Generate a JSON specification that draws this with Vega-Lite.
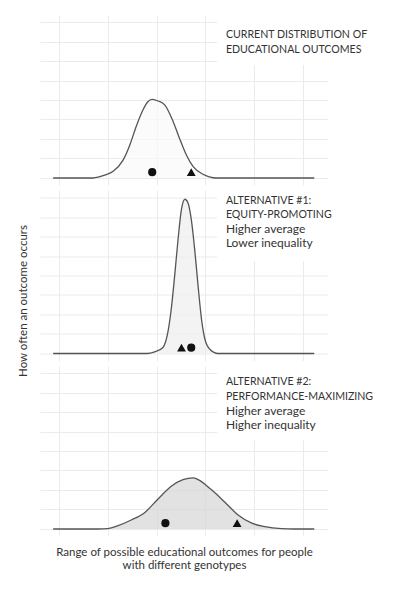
{
  "$schema": "https://vega.github.io/schema/vega-lite/v6.json",
  "padding": {"left": 17, "top": 15, "right": 0, "bottom": 0},
  "spacing": 5.5,
  "bounds": "flush",
  "config": {
    "view": {"stroke": null},
    "font": "Lato",
    "axis": {"labels": false, "ticks": false, "domain": false, "grid": true, "gridColor": "#ebebeb", "gridWidth": 1, "titleFont": "Lato", "titleFontSize": 11.5, "titleFontWeight": "normal", "titleColor": "#333333"}
  },
  "datasets": {
    "curves": [
      {"p": 1, "x": -0.12, "y": 0}, {"p": 1, "x": 0.70, "y": 0}, {"p": 1, "x": 0.80, "y": 0.04}, {"p": 1, "x": 0.90, "y": 0.12}, {"p": 1, "x": 1.11, "y": 0.34}, {"p": 1, "x": 1.31, "y": 0.9}, {"p": 1, "x": 1.45, "y": 1.68}, {"p": 1, "x": 1.58, "y": 2.63}, {"p": 1, "x": 1.72, "y": 3.49}, {"p": 1, "x": 1.82, "y": 3.91}, {"p": 1, "x": 1.91, "y": 4.03}, {"p": 1, "x": 2.03, "y": 3.95}, {"p": 1, "x": 2.17, "y": 3.74}, {"p": 1, "x": 2.34, "y": 2.89}, {"p": 1, "x": 2.47, "y": 2.03}, {"p": 1, "x": 2.61, "y": 1.18}, {"p": 1, "x": 2.75, "y": 0.58}, {"p": 1, "x": 2.95, "y": 0.19}, {"p": 1, "x": 3.08, "y": 0.06}, {"p": 1, "x": 3.22, "y": 0}, {"p": 1, "x": 5.23, "y": 0},
      {"p": 2, "x": -0.12, "y": 0}, {"p": 2, "x": 1.80, "y": 0}, {"p": 2, "x": 1.96, "y": 0.08}, {"p": 2, "x": 2.13, "y": 0.31}, {"p": 2, "x": 2.23, "y": 1.08}, {"p": 2, "x": 2.30, "y": 2.27}, {"p": 2, "x": 2.37, "y": 3.98}, {"p": 2, "x": 2.44, "y": 5.86}, {"p": 2, "x": 2.51, "y": 7.4}, {"p": 2, "x": 2.58, "y": 7.91}, {"p": 2, "x": 2.64, "y": 7.74}, {"p": 2, "x": 2.71, "y": 6.89}, {"p": 2, "x": 2.78, "y": 5.35}, {"p": 2, "x": 2.85, "y": 3.47}, {"p": 2, "x": 2.92, "y": 1.76}, {"p": 2, "x": 2.99, "y": 0.73}, {"p": 2, "x": 3.09, "y": 0.22}, {"p": 2, "x": 3.26, "y": 0}, {"p": 2, "x": 5.23, "y": 0},
      {"p": 3, "x": -0.12, "y": 0}, {"p": 3, "x": 0.80, "y": 0}, {"p": 3, "x": 1.00, "y": 0.02}, {"p": 3, "x": 1.21, "y": 0.17}, {"p": 3, "x": 1.48, "y": 0.46}, {"p": 3, "x": 1.76, "y": 0.85}, {"p": 3, "x": 2.03, "y": 1.54}, {"p": 3, "x": 2.30, "y": 2.19}, {"p": 3, "x": 2.54, "y": 2.53}, {"p": 3, "x": 2.75, "y": 2.62}, {"p": 3, "x": 2.85, "y": 2.53}, {"p": 3, "x": 3.12, "y": 2.02}, {"p": 3, "x": 3.40, "y": 1.37}, {"p": 3, "x": 3.67, "y": 0.72}, {"p": 3, "x": 3.94, "y": 0.31}, {"p": 3, "x": 4.22, "y": 0.12}, {"p": 3, "x": 4.56, "y": 0.02}, {"p": 3, "x": 4.83, "y": 0}, {"p": 3, "x": 5.23, "y": 0}
    ],
    "points": [
      {"p": 1, "x": 1.91, "s": "circle"}, {"p": 1, "x": 2.71, "s": "triangle-up"},
      {"p": 2, "x": 2.51, "s": "triangle-up"}, {"p": 2, "x": 2.71, "s": "circle"},
      {"p": 3, "x": 2.18, "s": "circle"}, {"p": 3, "x": 3.65, "s": "triangle-up"}
    ],
    "labels": [
      {"p": 1, "k": "head", "t": "CURRENT DISTRIBUTION OF\nEDUCATIONAL OUTCOMES"},
      {"p": 2, "k": "head", "t": "ALTERNATIVE #1:\nEQUITY-PROMOTING"},
      {"p": 2, "k": "sub", "t": "Higher average\nLower inequality"},
      {"p": 3, "k": "head", "t": "ALTERNATIVE #2:\nPERFORMANCE-MAXIMIZING"},
      {"p": 3, "k": "sub", "t": "Higher average\nHigher inequality"}
    ]
  },
  "vconcat": [
    {
      "width": 288, "height": 170,
      "layer": [
        {"data": {"values": [{}]}, "mark": {"type": "rect", "fill": "white"},
         "encoding": {"x": {"datum": 3.24, "type": "quantitative", "scale": {"domain": [-0.389, 5.512], "nice": false, "zero": false}, "axis": {"values": [0, 1, 2, 3, 4, 5], "title": null}}, "x2": {"datum": 5.512},
                      "y": {"datum": 5.8, "type": "quantitative", "scale": {"domain": [-0.36, 8.36], "nice": false, "zero": false}, "axis": {"values": [0, 1, 2, 3, 4, 5, 6, 7, 8], "title": null}}, "y2": {"datum": 8.36}}},
        {"data": {"name": "curves"}, "transform": [{"filter": "datum.p == 1"}],
         "mark": {"type": "area", "interpolate": "monotone", "fill": "#f9f9f9", "line": {"stroke": "#555555", "strokeWidth": 1.3}},
         "encoding": {"x": {"field": "x", "type": "quantitative", "scale": {"domain": [-0.389, 5.512], "nice": false, "zero": false}, "axis": {"values": [0, 1, 2, 3, 4, 5], "title": null}},
                      "y": {"field": "y", "type": "quantitative", "scale": {"domain": [-0.36, 8.36], "nice": false, "zero": false}, "axis": {"values": [0, 1, 2, 3, 4, 5, 6, 7, 8], "title": null}}}},
        {"data": {"name": "points"}, "transform": [{"filter": "datum.p == 1"}],
         "mark": {"type": "point", "filled": true, "color": "#111111", "opacity": 1},
         "encoding": {"x": {"field": "x", "type": "quantitative", "scale": {"domain": [-0.389, 5.512], "nice": false, "zero": false}, "axis": {"values": [0, 1, 2, 3, 4, 5], "title": null}},
                      "y": {"datum": 0.3, "type": "quantitative", "scale": {"domain": [-0.36, 8.36], "nice": false, "zero": false}, "axis": {"values": [0, 1, 2, 3, 4, 5, 6, 7, 8], "title": null}},
                      "shape": {"field": "s", "type": "nominal", "scale": null},
                      "size": {"field": "s", "type": "nominal", "scale": {"domain": ["circle", "triangle-up"], "range": [66, 78]}, "legend": null}}},
        {"data": {"name": "labels"}, "transform": [{"filter": "datum.p == 1 && datum.k == 'head'"}],
         "mark": {"type": "text", "align": "left", "baseline": "alphabetic", "lineBreak": "\n", "lineHeight": 15, "font": "Lato", "fontSize": 10.6, "color": "#333333"},
         "encoding": {"x": {"datum": 3.42, "type": "quantitative", "scale": {"domain": [-0.389, 5.512], "nice": false, "zero": false}, "axis": {"values": [0, 1, 2, 3, 4, 5], "title": null}},
                      "y": {"datum": 7.16, "type": "quantitative", "scale": {"domain": [-0.36, 8.36], "nice": false, "zero": false}, "axis": {"values": [0, 1, 2, 3, 4, 5, 6, 7, 8], "title": null}},
                      "text": {"field": "t"}}}
      ]
    },
    {
      "width": 288, "height": 170,
      "layer": [
        {"data": {"values": [{}]}, "mark": {"type": "rect", "fill": "white"},
         "encoding": {"x": {"datum": 3.24, "type": "quantitative", "scale": {"domain": [-0.389, 5.512], "nice": false, "zero": false}, "axis": {"values": [0, 1, 2, 3, 4, 5], "title": null}}, "x2": {"datum": 5.512},
                      "y": {"datum": 4.75, "type": "quantitative", "scale": {"domain": [-0.36, 8.36], "nice": false, "zero": false}, "axis": {"values": [0, 1, 2, 3, 4, 5, 6, 7, 8], "title": "How often an outcome occurs", "titlePadding": 12, "titleY": 110}}, "y2": {"datum": 8.36}}},
        {"data": {"name": "curves"}, "transform": [{"filter": "datum.p == 2"}],
         "mark": {"type": "area", "interpolate": "monotone", "fill": "#eeeeee", "line": {"stroke": "#555555", "strokeWidth": 1.3}},
         "encoding": {"x": {"field": "x", "type": "quantitative", "scale": {"domain": [-0.389, 5.512], "nice": false, "zero": false}, "axis": {"values": [0, 1, 2, 3, 4, 5], "title": null}},
                      "y": {"field": "y", "type": "quantitative", "scale": {"domain": [-0.36, 8.36], "nice": false, "zero": false}, "axis": {"values": [0, 1, 2, 3, 4, 5, 6, 7, 8], "title": "How often an outcome occurs", "titlePadding": 12, "titleY": 110}}}},
        {"data": {"name": "points"}, "transform": [{"filter": "datum.p == 2"}],
         "mark": {"type": "point", "filled": true, "color": "#111111", "opacity": 1},
         "encoding": {"x": {"field": "x", "type": "quantitative", "scale": {"domain": [-0.389, 5.512], "nice": false, "zero": false}, "axis": {"values": [0, 1, 2, 3, 4, 5], "title": null}},
                      "y": {"datum": 0.3, "type": "quantitative", "scale": {"domain": [-0.36, 8.36], "nice": false, "zero": false}, "axis": {"values": [0, 1, 2, 3, 4, 5, 6, 7, 8], "title": "How often an outcome occurs", "titlePadding": 12, "titleY": 110}},
                      "shape": {"field": "s", "type": "nominal", "scale": null},
                      "size": {"field": "s", "type": "nominal", "scale": {"domain": ["circle", "triangle-up"], "range": [66, 78]}, "legend": null}}},
        {"data": {"name": "labels"}, "transform": [{"filter": "datum.p == 2 && datum.k == 'head'"}],
         "mark": {"type": "text", "align": "left", "baseline": "alphabetic", "lineBreak": "\n", "lineHeight": 14.5, "font": "Lato", "fontSize": 10.6, "color": "#333333"},
         "encoding": {"x": {"datum": 3.42, "type": "quantitative", "scale": {"domain": [-0.389, 5.512], "nice": false, "zero": false}, "axis": {"values": [0, 1, 2, 3, 4, 5], "title": null}},
                      "y": {"datum": 7.69, "type": "quantitative", "scale": {"domain": [-0.36, 8.36], "nice": false, "zero": false}, "axis": {"values": [0, 1, 2, 3, 4, 5, 6, 7, 8], "title": "How often an outcome occurs", "titlePadding": 12, "titleY": 110}},
                      "text": {"field": "t"}}},
        {"data": {"name": "labels"}, "transform": [{"filter": "datum.p == 2 && datum.k == 'sub'"}],
         "mark": {"type": "text", "align": "left", "baseline": "alphabetic", "lineBreak": "\n", "lineHeight": 14.5, "font": "Lato", "fontSize": 12, "color": "#333333"},
         "encoding": {"x": {"datum": 3.42, "type": "quantitative", "scale": {"domain": [-0.389, 5.512], "nice": false, "zero": false}, "axis": {"values": [0, 1, 2, 3, 4, 5], "title": null}},
                      "y": {"datum": 6.2, "type": "quantitative", "scale": {"domain": [-0.36, 8.36], "nice": false, "zero": false}, "axis": {"values": [0, 1, 2, 3, 4, 5, 6, 7, 8], "title": "How often an outcome occurs", "titlePadding": 12, "titleY": 110}},
                      "text": {"field": "t"}}}
      ]
    },
    {
      "width": 288, "height": 170,
      "layer": [
        {"data": {"values": [{}]}, "mark": {"type": "rect", "fill": "white"},
         "encoding": {"x": {"datum": 3.24, "type": "quantitative", "scale": {"domain": [-0.389, 5.512], "nice": false, "zero": false}, "axis": {"values": [0, 1, 2, 3, 4, 5], "title": ["Range of possible educational outcomes for people", "with different genotypes"], "titlePadding": 10, "titleLineHeight": 13.5}}, "x2": {"datum": 5.512},
                      "y": {"datum": 4.55, "type": "quantitative", "scale": {"domain": [-0.36, 8.36], "nice": false, "zero": false}, "axis": {"values": [0, 1, 2, 3, 4, 5, 6, 7, 8], "title": null}}, "y2": {"datum": 8.36}}},
        {"data": {"name": "curves"}, "transform": [{"filter": "datum.p == 3"}],
         "mark": {"type": "area", "interpolate": "monotone", "fill": "#d6d6d6", "line": {"stroke": "#555555", "strokeWidth": 1.3}},
         "encoding": {"x": {"field": "x", "type": "quantitative", "scale": {"domain": [-0.389, 5.512], "nice": false, "zero": false}, "axis": {"values": [0, 1, 2, 3, 4, 5], "title": ["Range of possible educational outcomes for people", "with different genotypes"], "titlePadding": 10, "titleLineHeight": 13.5}},
                      "y": {"field": "y", "type": "quantitative", "scale": {"domain": [-0.36, 8.36], "nice": false, "zero": false}, "axis": {"values": [0, 1, 2, 3, 4, 5, 6, 7, 8], "title": null}}}},
        {"data": {"name": "points"}, "transform": [{"filter": "datum.p == 3"}],
         "mark": {"type": "point", "filled": true, "color": "#111111", "opacity": 1},
         "encoding": {"x": {"field": "x", "type": "quantitative", "scale": {"domain": [-0.389, 5.512], "nice": false, "zero": false}, "axis": {"values": [0, 1, 2, 3, 4, 5], "title": ["Range of possible educational outcomes for people", "with different genotypes"], "titlePadding": 10, "titleLineHeight": 13.5}},
                      "y": {"datum": 0.3, "type": "quantitative", "scale": {"domain": [-0.36, 8.36], "nice": false, "zero": false}, "axis": {"values": [0, 1, 2, 3, 4, 5, 6, 7, 8], "title": null}},
                      "shape": {"field": "s", "type": "nominal", "scale": null},
                      "size": {"field": "s", "type": "nominal", "scale": {"domain": ["circle", "triangle-up"], "range": [66, 78]}, "legend": null}}},
        {"data": {"name": "labels"}, "transform": [{"filter": "datum.p == 3 && datum.k == 'head'"}],
         "mark": {"type": "text", "align": "left", "baseline": "alphabetic", "lineBreak": "\n", "lineHeight": 14.5, "font": "Lato", "fontSize": 10.6, "color": "#333333"},
         "encoding": {"x": {"datum": 3.42, "type": "quantitative", "scale": {"domain": [-0.389, 5.512], "nice": false, "zero": false}, "axis": {"values": [0, 1, 2, 3, 4, 5], "title": ["Range of possible educational outcomes for people", "with different genotypes"], "titlePadding": 10, "titleLineHeight": 13.5}},
                      "y": {"datum": 7.36, "type": "quantitative", "scale": {"domain": [-0.36, 8.36], "nice": false, "zero": false}, "axis": {"values": [0, 1, 2, 3, 4, 5, 6, 7, 8], "title": null}},
                      "text": {"field": "t"}}},
        {"data": {"name": "labels"}, "transform": [{"filter": "datum.p == 3 && datum.k == 'sub'"}],
         "mark": {"type": "text", "align": "left", "baseline": "alphabetic", "lineBreak": "\n", "lineHeight": 14.5, "font": "Lato", "fontSize": 12, "color": "#333333"},
         "encoding": {"x": {"datum": 3.42, "type": "quantitative", "scale": {"domain": [-0.389, 5.512], "nice": false, "zero": false}, "axis": {"values": [0, 1, 2, 3, 4, 5], "title": ["Range of possible educational outcomes for people", "with different genotypes"], "titlePadding": 10, "titleLineHeight": 13.5}},
                      "y": {"datum": 5.87, "type": "quantitative", "scale": {"domain": [-0.36, 8.36], "nice": false, "zero": false}, "axis": {"values": [0, 1, 2, 3, 4, 5, 6, 7, 8], "title": null}},
                      "text": {"field": "t"}}}
      ]
    }
  ]
}
